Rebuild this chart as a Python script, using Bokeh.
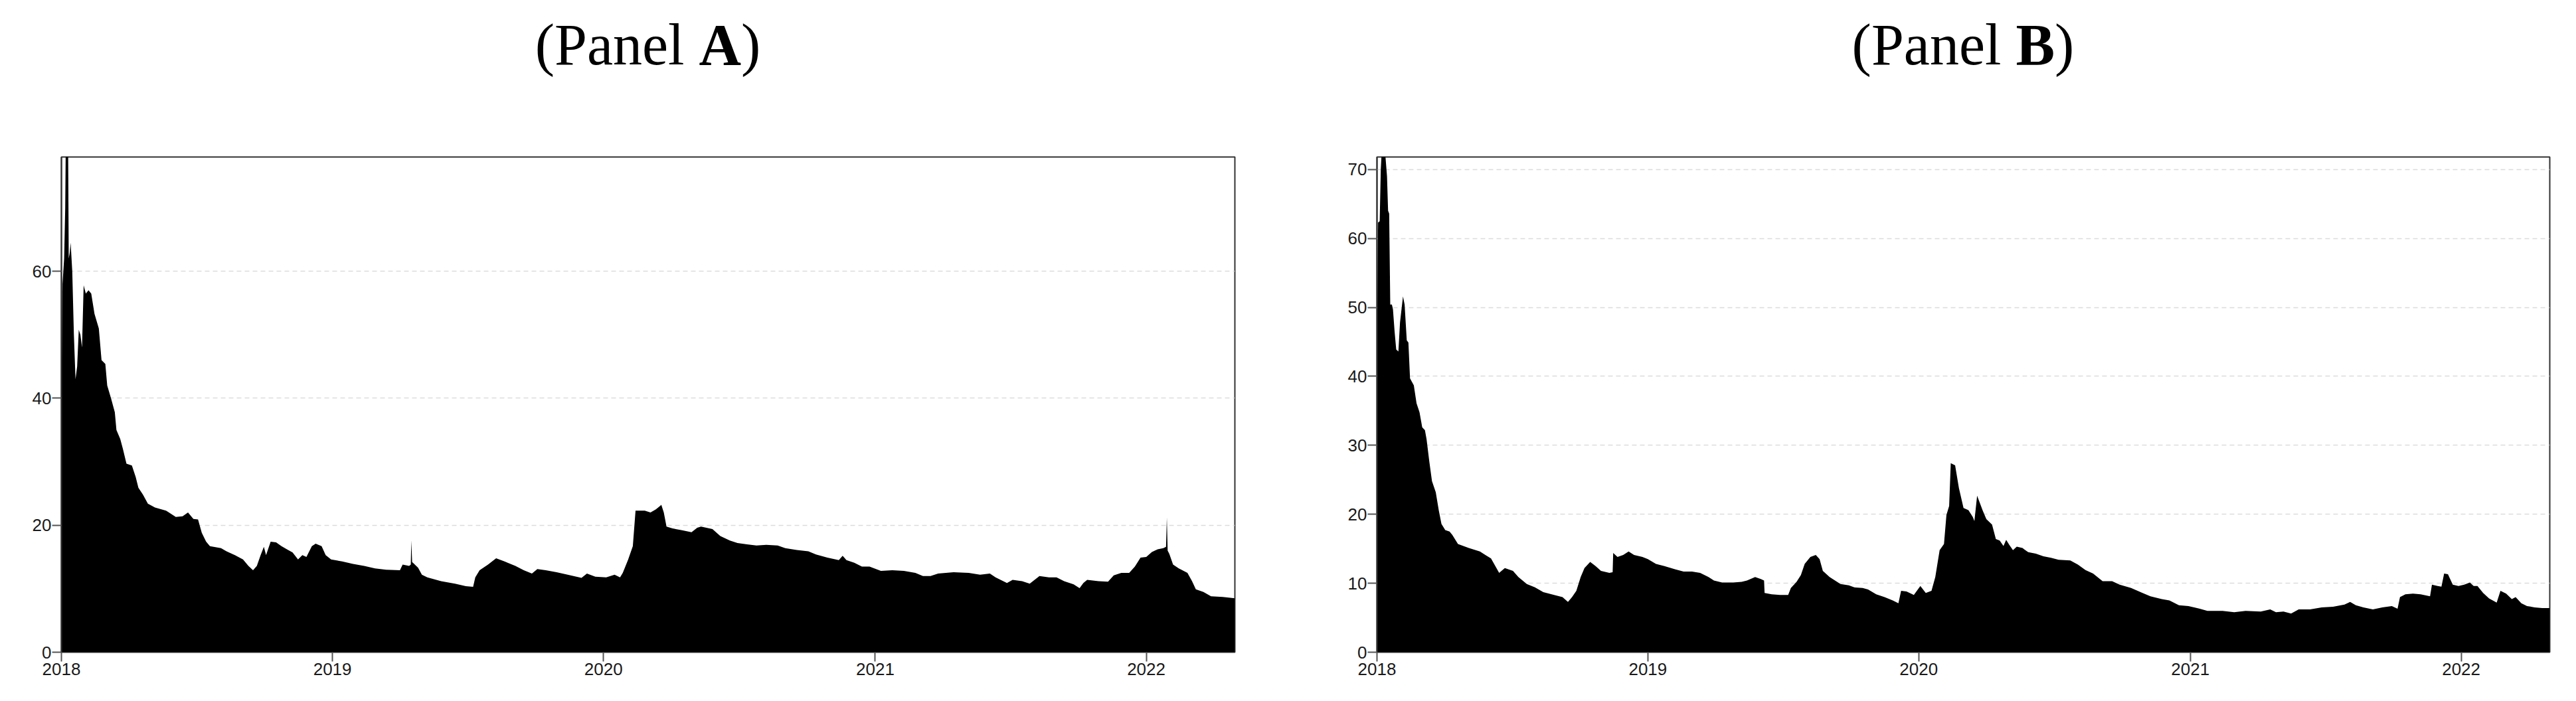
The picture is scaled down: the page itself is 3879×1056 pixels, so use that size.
import pandas as pd
from bokeh.plotting import figure
from bokeh.layouts import row, column
from bokeh.models import Range1d, FixedTicker, DatetimeTickFormatter, Div, ColumnDataSource
from bokeh.embed import file_html
from bokeh.resources import INLINE

# ---------------- data (decimal years) ----------------
panel_a_t = [2018.000, 2018.004, 2018.010, 2018.014, 2018.017, 2018.024, 2018.027, 2018.031, 2018.034,
             2018.040, 2018.046, 2018.052, 2018.058, 2018.064, 2018.070, 2018.076, 2018.082, 2018.090,
             2018.100, 2018.110, 2018.122, 2018.138, 2018.148, 2018.162, 2018.169, 2018.183, 2018.197,
             2018.203, 2018.217, 2018.227, 2018.240, 2018.260, 2018.274, 2018.284, 2018.301, 2018.319,
             2018.345, 2018.386, 2018.422, 2018.447, 2018.467, 2018.487, 2018.504, 2018.518, 2018.534,
             2018.548, 2018.589, 2018.609, 2018.640, 2018.670, 2018.690, 2018.707, 2018.721, 2018.735,
             2018.747, 2018.755, 2018.772, 2018.792, 2018.812, 2018.832, 2018.853, 2018.873, 2018.889,
             2018.904, 2018.924, 2018.938, 2018.960, 2018.975, 2018.995, 2019.036, 2019.076, 2019.117,
             2019.157, 2019.198, 2019.249, 2019.259, 2019.283, 2019.289, 2019.291, 2019.294, 2019.299,
             2019.316, 2019.330, 2019.350, 2019.401, 2019.452, 2019.492, 2019.519, 2019.527, 2019.543,
             2019.574, 2019.604, 2019.635, 2019.675, 2019.706, 2019.736, 2019.756, 2019.787, 2019.827,
             2019.868, 2019.919, 2019.939, 2019.970, 2020.010, 2020.041, 2020.061, 2020.071, 2020.091,
             2020.108, 2020.118, 2020.152, 2020.173, 2020.193, 2020.213, 2020.222, 2020.232, 2020.254,
             2020.289, 2020.324, 2020.345, 2020.359, 2020.401, 2020.430, 2020.465, 2020.493, 2020.528,
             2020.563, 2020.599, 2020.641, 2020.669, 2020.711, 2020.754, 2020.782, 2020.824, 2020.866,
             2020.880, 2020.894, 2020.923, 2020.951, 2020.979, 2021.021, 2021.063, 2021.106, 2021.148,
             2021.176, 2021.204, 2021.232, 2021.289, 2021.345, 2021.387, 2021.423, 2021.444, 2021.486,
             2021.507, 2021.542, 2021.570, 2021.606, 2021.641, 2021.669, 2021.697, 2021.732, 2021.754,
             2021.768, 2021.782, 2021.824, 2021.859, 2021.880, 2021.908, 2021.937, 2021.958, 2021.979,
             2022.000, 2022.021, 2022.042, 2022.063, 2022.073, 2022.076, 2022.079, 2022.085, 2022.099,
             2022.120, 2022.152, 2022.169, 2022.183, 2022.211, 2022.239, 2022.282, 2022.327]
panel_a_v = [40.0, 58.0, 62.0, 70.0, 85.0, 85.0, 62.0, 63.0, 64.5,
             60.0, 50.0, 43.0, 45.0, 50.8, 50.0, 48.0, 57.8, 56.5,
             57.0, 56.5, 53.3, 51.0, 46.0, 45.4, 42.0, 40.0, 37.8,
             35.0, 33.6, 32.0, 29.7, 29.4, 27.6, 25.9, 24.8, 23.4,
             22.8, 22.3, 21.3, 21.4, 22.0, 21.0, 20.9, 18.8, 17.4,
             16.7, 16.4, 15.9, 15.3, 14.6, 13.6, 12.9, 13.6, 15.3,
             16.6, 15.3, 17.4, 17.3, 16.7, 16.2, 15.7, 14.6, 15.3,
             15.0, 16.7, 17.1, 16.7, 15.3, 14.6, 14.3, 13.9, 13.6,
             13.2, 13.0, 12.9, 13.8, 13.6, 13.8, 17.6, 14.2, 14.0,
             13.3, 12.2, 11.8, 11.2, 10.8, 10.4, 10.3, 11.8, 12.9,
             13.8, 14.8, 14.3, 13.6, 12.9, 12.4, 13.1, 12.9, 12.6,
             12.2, 11.7, 12.4, 11.9, 11.8, 12.2, 11.8, 12.5, 14.6,
             16.7, 22.3, 22.3, 22.0, 22.5, 23.2, 22.0, 19.8, 19.5,
             19.2, 18.9, 19.6, 19.8, 19.4, 18.3, 17.6, 17.2, 17.0,
             16.8, 16.9, 16.8, 16.4, 16.1, 15.9, 15.4, 14.9, 14.5,
             15.2, 14.5, 14.1, 13.5, 13.5, 12.8, 12.9, 12.8, 12.5,
             12.0, 12.0, 12.4, 12.6, 12.5, 12.2, 12.4, 11.8, 10.9,
             11.4, 11.2, 10.8, 12.0, 11.8, 11.8, 11.2, 10.7, 10.1,
             10.9, 11.4, 11.2, 11.1, 12.1, 12.5, 12.5, 13.5, 14.9,
             15.0, 15.8, 16.2, 16.4, 16.6, 21.2, 16.0, 15.5, 13.8,
             13.2, 12.5, 11.2, 9.9, 9.5, 8.8, 8.7, 8.5]

panel_b_t = [2018.000, 2018.004, 2018.010, 2018.014, 2018.018, 2018.026, 2018.030, 2018.037, 2018.041,
             2018.045, 2018.049, 2018.055, 2018.059, 2018.065, 2018.071, 2018.079, 2018.085, 2018.096,
             2018.102, 2018.110, 2018.116, 2018.122, 2018.136, 2018.146, 2018.157, 2018.167, 2018.177,
             2018.183, 2018.193, 2018.203, 2018.217, 2018.228, 2018.238, 2018.252, 2018.268, 2018.278,
             2018.299, 2018.339, 2018.380, 2018.400, 2018.421, 2018.441, 2018.451, 2018.472, 2018.502,
             2018.522, 2018.553, 2018.583, 2018.614, 2018.654, 2018.685, 2018.705, 2018.720, 2018.736,
             2018.752, 2018.766, 2018.787, 2018.807, 2018.827, 2018.858, 2018.870, 2018.872, 2018.888,
             2018.909, 2018.929, 2018.949, 2018.980, 2019.000, 2019.030, 2019.061, 2019.102, 2019.132,
             2019.163, 2019.193, 2019.224, 2019.244, 2019.274, 2019.315, 2019.346, 2019.366, 2019.396,
             2019.417, 2019.429, 2019.431, 2019.457, 2019.488, 2019.518, 2019.528, 2019.549, 2019.565,
             2019.579, 2019.600, 2019.620, 2019.634, 2019.646, 2019.671, 2019.691, 2019.711, 2019.742,
             2019.762, 2019.793, 2019.813, 2019.843, 2019.874, 2019.904, 2019.925, 2019.935, 2019.955,
             2019.982, 2020.006, 2020.026, 2020.047, 2020.061, 2020.077, 2020.093, 2020.102, 2020.112,
             2020.118, 2020.134, 2020.148, 2020.165, 2020.183, 2020.199, 2020.205, 2020.215, 2020.235,
             2020.249, 2020.270, 2020.284, 2020.298, 2020.312, 2020.322, 2020.333, 2020.347, 2020.361,
             2020.382, 2020.403, 2020.431, 2020.459, 2020.487, 2020.515, 2020.558, 2020.586, 2020.614,
             2020.642, 2020.677, 2020.712, 2020.740, 2020.782, 2020.824, 2020.853, 2020.895, 2020.923,
             2020.958, 2020.993, 2021.035, 2021.063, 2021.119, 2021.162, 2021.204, 2021.260, 2021.295,
             2021.316, 2021.344, 2021.372, 2021.400, 2021.442, 2021.485, 2021.527, 2021.569, 2021.590,
             2021.611, 2021.639, 2021.674, 2021.709, 2021.744, 2021.765, 2021.774, 2021.794, 2021.822,
             2021.850, 2021.885, 2021.892, 2021.913, 2021.927, 2021.937, 2021.951, 2021.969, 2021.990,
             2022.011, 2022.032, 2022.046, 2022.060, 2022.081, 2022.103, 2022.131, 2022.145, 2022.166,
             2022.187, 2022.201, 2022.222, 2022.243, 2022.271, 2022.299, 2022.327]
panel_b_v = [45.0, 62.3, 62.5, 70.0, 73.0, 73.0, 72.5, 69.0, 64.0,
             63.6, 50.4, 50.4, 49.7, 46.5, 43.9, 43.6, 47.8, 51.6,
             50.4, 45.2, 44.9, 39.7, 38.7, 36.1, 34.8, 32.6, 32.2,
             30.9, 27.7, 24.8, 23.2, 20.6, 18.6, 17.7, 17.5, 17.0,
             15.7, 15.1, 14.6, 14.1, 13.6, 12.2, 11.5, 12.2, 11.8,
             10.9, 9.9, 9.4, 8.7, 8.3, 8.0, 7.3, 8.0, 8.9,
             10.9, 12.2, 13.1, 12.5, 11.8, 11.5, 11.6, 14.4, 13.8,
             14.1, 14.6, 14.1, 13.8, 13.5, 12.8, 12.5, 12.0, 11.7,
             11.7, 11.5, 10.9, 10.4, 10.1, 10.1, 10.2, 10.4, 10.9,
             10.6, 10.4, 8.6, 8.4, 8.3, 8.3, 9.3, 10.2, 11.2,
             12.8, 13.8, 14.1, 13.5, 11.8, 10.9, 10.4, 9.9, 9.7,
             9.4, 9.3, 9.1, 8.4, 8.0, 7.5, 7.1, 8.9, 8.8,
             8.3, 9.6, 8.6, 8.9, 10.9, 14.8, 15.7, 19.9, 21.2,
             27.4, 27.1, 23.8, 20.9, 20.6, 19.6, 19.0, 22.7, 20.6,
             19.3, 18.5, 16.4, 16.2, 15.4, 16.3, 15.6, 14.8, 15.3,
             15.1, 14.5, 14.3, 13.9, 13.7, 13.4, 13.3, 12.7, 11.9,
             11.4, 10.3, 10.3, 9.8, 9.3, 8.6, 8.1, 7.7, 7.5,
             6.8, 6.7, 6.3, 6.0, 6.0, 5.8, 6.0, 5.9, 6.2,
             5.8, 5.9, 5.6, 6.2, 6.2, 6.5, 6.6, 6.9, 7.3,
             6.8, 6.5, 6.2, 6.5, 6.7, 6.3, 8.0, 8.4, 8.5,
             8.4, 8.1, 9.8, 9.6, 9.5, 11.4, 11.3, 9.8, 9.6,
             9.8, 10.1, 9.6, 9.6, 8.6, 7.8, 7.2, 8.9, 8.5,
             7.7, 8.0, 7.1, 6.7, 6.5, 6.4, 6.4]

year_ticks = [2018, 2019, 2020, 2021, 2022]
panel_a_yticks = [0, 20, 40, 60]
panel_b_yticks = [0, 10, 20, 30, 40, 50, 60, 70]
panel_a_ymax = 78.0
panel_b_ymax = 71.8
x_start_dec = 2018.0
x_end_dec = 2022.327


def dec_to_dt(v):
    y = int(v)
    s = pd.Timestamp(year=y, month=1, day=1)
    e = pd.Timestamp(year=y + 1, month=1, day=1)
    return s + (e - s) * (v - y)


def make_panel(t, v, ymax, yticks, border_left, border_right, fw):
    xs = [dec_to_dt(a) for a in t]
    src = ColumnDataSource(data=dict(x=xs, y=v))
    p = figure(frame_width=fw, frame_height=746, output_backend="svg", toolbar_location=None,
               x_axis_type="datetime",
               x_range=Range1d(dec_to_dt(x_start_dec), dec_to_dt(x_end_dec)),
               y_range=Range1d(0, ymax),
               min_border_left=border_left, min_border_right=border_right,
               min_border_top=86, min_border_bottom=60)
    p.varea(x="x", y1=0, y2="y", source=src, fill_color="black", fill_alpha=1.0)
    p.background_fill_color = "white"
    p.border_fill_color = "white"
    p.outline_line_color = "#333333"
    p.outline_line_width = 2
    p.xgrid.visible = False
    p.ygrid.grid_line_color = "#dcdcdc"
    p.ygrid.grid_line_dash = "7 5"
    p.ygrid.grid_line_width = 1.5

    tick_ms = [pd.Timestamp(year=y, month=1, day=1).value / 1e6 for y in year_ticks]
    p.xaxis.ticker = FixedTicker(ticks=tick_ms)
    p.xaxis.formatter = DatetimeTickFormatter(years="%Y", months="%Y", days="%Y", hours="%Y",
                                              minutes="%Y", seconds="%Y", milliseconds="%Y")
    p.yaxis.ticker = FixedTicker(ticks=yticks)
    for ax in (p.xaxis, p.yaxis):
        ax.major_tick_out = 14
        ax.major_tick_in = 0
        ax.minor_tick_line_color = None
        ax.major_tick_line_color = "#555555"
        ax.major_tick_line_width = 2
        ax.major_label_text_font = "Liberation Sans"
        ax.major_label_text_font_size = "26px"
        ax.major_label_text_color = "#1a1a1a"
    p.xaxis.axis_line_color = None
    p.yaxis.axis_line_color = "#333333"
    p.yaxis.axis_line_width = 2
    p.xaxis.major_label_standoff = 2
    p.yaxis.major_label_standoff = 1
    return p


pa = make_panel(panel_a_t, panel_a_v, panel_a_ymax, panel_a_yticks, 92, 122, 1767)
pb = make_panel(panel_b_t, panel_b_v, panel_b_ymax, panel_b_yticks, 92, 30, 1766)

wa = 1951
wb = 1950
title_style = ("font-family:'Liberation Serif',serif;font-size:88px;line-height:88px;"
               "text-align:center;padding-top:24px;color:#000;white-space:nowrap;")
ta = Div(text=f'<div style="{title_style}width:{wa}px;">(Panel <b>A</b>)</div>',
         width=1981, height=150, margin=0)
tb = Div(text=f'<div style="{title_style}width:{wb}px;">(Panel <b>B</b>)</div>',
         width=1888, height=150, margin=0)

layout = row(column(ta, pa, spacing=0), column(tb, pb, spacing=0), spacing=0)

open("out.html", "w").write(file_html(layout, INLINE))
